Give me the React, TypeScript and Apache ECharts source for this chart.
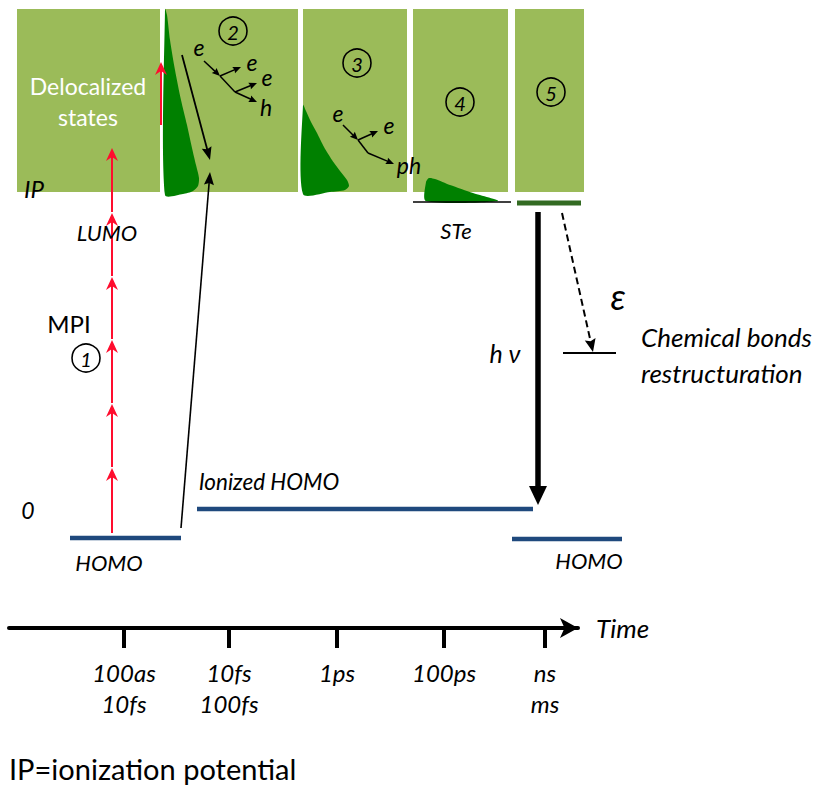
import { useEffect, useRef } from 'react';
import * as echarts from 'echarts';

const CHART_W = 826;
const CHART_H = 787;
const FONT = 'Lato, "Open Sans", sans-serif';

// Delocalized-state bands for each stage: [xStart, xEnd, top, bottom]
const bandBlocks = [
  [17, 160, 9, 192],
  [165, 298, 9, 192],
  [303, 407, 9, 192],
  [413, 508, 9, 192],
  [515, 584, 9, 192],
];

// Hot-carrier population profiles (outline points)
const profileStage2 = [[165, 9], [167, 15], [170, 40], [175, 70], [181, 100], [187, 125], [192, 148], [196, 165], [199, 178], [198, 186], [193, 191], [183, 194], [165, 195]];
const profileStage3 = [[303, 105], [306, 111], [311, 122], [317, 133], [324, 147], [332, 160], [340, 171], [347, 180], [349, 186], [345, 190], [330, 192], [303, 194]];
const profileStage4 = [[426, 201], [426, 182], [429, 178], [435, 179], [450, 185], [473, 193], [498, 201]];
const hotCarrierProfiles = [profileStage2, profileStage3, profileStage4];

// Orbital levels: [xStart, xEnd, level]
const orbitalLevels = [
  [70, 181, 538],
  [197, 533, 509],
  [512, 622, 539],
];

// Other states: [xStart, xEnd, level, color, width]
const stateLevels: any[] = [
  [413, 511, 202, '#000000', 1.5],
  [517, 581, 203, '#336B22', 5],
  [563, 616, 353, '#000000', 1.8],
];

// Multiphoton ionization steps (levels of successive photon arrows)
const mpiX = 112;
const mpiSteps = [533, 468, 404, 340, 277, 213, 148];

// Arrows: [x0, y0, x1, y1, color, width, headLen, headWidth, notch, dashed]
const arrows: any[] = [
  [161, 125, 161, 62, '#FF0D2E', 2, 13, 12, 4, 0],
  [182, 55, 210, 160, '#000000', 1.8, 13, 10, 2, 0],
  [181, 528, 210, 172, '#000000', 1.6, 13, 10, 2, 0],
  [538, 212, 538, 505, '#000000', 5.5, 19, 18, 0, 0],
  [562, 213, 593, 352, '#000000', 2, 13, 11, 2, 1],
  [204, 61, 220, 76, '#000000', 1.5, 8, 7, 1, 0],
  [220, 76, 241, 67, '#000000', 1.5, 8, 7, 1, 0],
  [220, 76, 235, 92, '#000000', 1.5, 0, 0, 0, 0],
  [235, 92, 257, 83, '#000000', 1.5, 8, 7, 1, 0],
  [235, 92, 257, 102, '#000000', 1.5, 8, 7, 1, 0],
  [343, 125, 358, 140, '#000000', 1.5, 8, 7, 1, 0],
  [358, 140, 378, 131, '#000000', 1.5, 8, 7, 1, 0],
  [358, 140, 368, 153, '#000000', 1.5, 0, 0, 0, 0],
  [368, 153, 394, 164, '#000000', 1.5, 8, 7, 1, 0],
];

// Stage markers: [label, x, y]
const stageMarkers: any[] = [
  ['1', 86, 358],
  ['2', 233, 31],
  ['3', 357, 63],
  ['4', 460, 102],
  ['5', 551, 92],
];

// Text labels: [text, x, y, size, italic, color, align]
const textLabels: any[] = [
  ['Delocalized', 88, 86, 23, 0, '#ffffff', 'center'],
  ['states', 88, 117, 23, 0, '#ffffff', 'center'],
  ['IP', 24, 188, 24, 1, '#000000', 'left'],
  ['LUMO', 107, 232, 22, 1, '#000000', 'center'],
  ['MPI', 69, 323, 24, 0, '#000000', 'center'],
  ['STe', 456, 230, 22, 1, '#000000', 'center'],
  ['0', 28, 510, 23, 1, '#000000', 'center'],
  ['HOMO', 109, 562, 22, 1, '#000000', 'center'],
  ['Ionized HOMO', 269, 481, 22.5, 1, '#000000', 'center'],
  ['HOMO', 589, 560, 22, 1, '#000000', 'center'],
  ['h ν', 505, 353, 25, 1, '#000000', 'center'],
  ['ε', 618, 296, 36, 1, '#000000', 'center'],
  ['Chemical bonds', 641, 337, 26, 1, '#000000', 'left'],
  ['restructuration', 641, 373, 26, 1, '#000000', 'left'],
  ['e', 199, 47, 23, 1, '#000000', 'center'],
  ['e', 252, 62, 23, 1, '#000000', 'center'],
  ['e', 267, 77, 23, 1, '#000000', 'center'],
  ['h', 266, 107, 23, 1, '#000000', 'center'],
  ['e', 338, 113, 23, 1, '#000000', 'center'],
  ['e', 389, 125, 23, 1, '#000000', 'center'],
  ['ph', 409, 165, 23, 1, '#000000', 'center'],
  ['IP=ionization potential', 9, 768, 29, 0, '#000000', 'left'],
];

// Time axis
const timeTicks = [124, 229, 337, 444, 545];
const timeTickLabels = ['100as\n10fs', '10fs\n100fs', '1ps', '100ps', 'ns\nms'];
const timeAxisStart = 9;
const timeAxisEnd = 578;
const timeAxisLevel = 628;

function arrowGroup(api: any, a: any[]) {
  const [x0, y0, x1, y1, color, width, hl, hw, notch, dashed] = a;
  const p0 = api.coord([x0, y0]);
  const p1 = api.coord([x1, y1]);
  const dx = p1[0] - p0[0];
  const dy = p1[1] - p0[1];
  const L = Math.hypot(dx, dy) || 1;
  const ux = dx / L;
  const uy = dy / L;
  const nx = -uy;
  const ny = ux;
  const children: any[] = [];
  const trim = hl > 0 ? Math.max(hl - notch - 1, hl * 0.6) : 0;
  children.push({
    type: 'line',
    shape: { x1: p0[0], y1: p0[1], x2: p1[0] - ux * trim, y2: p1[1] - uy * trim },
    style: { stroke: color, lineWidth: width, lineDash: dashed ? [7, 4] : null, lineCap: 'butt' },
  });
  if (hl > 0) {
    const bx = p1[0] - ux * hl;
    const by = p1[1] - uy * hl;
    children.push({
      type: 'polygon',
      shape: {
        points: [
          [p1[0], p1[1]],
          [bx + (nx * hw) / 2, by + (ny * hw) / 2],
          [p1[0] - ux * (hl - notch), p1[1] - uy * (hl - notch)],
          [bx - (nx * hw) / 2, by - (ny * hw) / 2],
        ],
      },
      style: { fill: color, stroke: null },
    });
  }
  return { type: 'group', children };
}

export default function App() {
  const ref = useRef<HTMLDivElement>(null);

  useEffect(() => {
    if (!ref.current) return;
    const chart = echarts.init(ref.current, undefined, { renderer: 'svg' });

    const mpiArrows = mpiSteps.slice(1).map((lvl, i) => [
      mpiX, i === 0 ? mpiSteps[0] : mpiSteps[i] - 1, mpiX, lvl, '#FF0D2E', 2, 13, 12, 4, 0,
    ]);
    const allArrows = [...mpiArrows, ...arrows];

    const base = {
      type: 'custom',
      coordinateSystem: 'cartesian2d',
      xAxisIndex: 0,
      yAxisIndex: 0,
      silent: true,
      clip: false,
    };

    const option: any = {
      animation: false,
      backgroundColor: '#ffffff',
      grid: [
        { left: 0, top: 0, width: CHART_W, height: CHART_H },
        { left: timeAxisStart, top: timeAxisLevel - 1, width: timeAxisEnd - timeAxisStart, height: 1 },
      ],
      xAxis: [
        { type: 'value', gridIndex: 0, min: 0, max: CHART_W, show: false },
        {
          type: 'value',
          gridIndex: 1,
          min: timeAxisStart,
          max: timeAxisEnd,
          position: 'bottom',
          splitLine: { show: false },
          axisLine: {
            show: true,
            onZero: false,
            symbol: ['none', 'arrow'],
            symbolSize: [15, 18],
            symbolOffset: [0, 0],
            lineStyle: { color: '#000000', width: 4 },
          },
          axisTick: {
            show: true,
            customValues: timeTicks,
            length: 20,
            lineStyle: { color: '#000000', width: 4 },
          },
          axisLabel: {
            show: true,
            customValues: timeTicks,
            margin: 29,
            color: '#000000',
            fontFamily: FONT,
            fontStyle: 'italic',
            fontSize: 24,
            lineHeight: 31,
            formatter: (v: number) => {
              const i = timeTicks.indexOf(Math.round(v));
              return i >= 0 ? timeTickLabels[i] : '';
            },
          },
          name: 'Time',
          nameLocation: 'end',
          nameGap: 18,
          nameTextStyle: {
            color: '#000000',
            fontFamily: FONT,
            fontStyle: 'italic',
            fontSize: 26,
            verticalAlign: 'middle',
            padding: [0, 0, 12, 0],
          },
        },
      ],
      yAxis: [
        { type: 'value', gridIndex: 0, min: 0, max: CHART_H, inverse: true, show: false },
        { type: 'value', gridIndex: 1, min: 0, max: 1, show: false },
      ],
      series: [
        {
          ...base,
          name: 'bands',
          data: bandBlocks.map((b) => [b[0], b[2]]),
          renderItem: (params: any, api: any) => {
            const b = bandBlocks[params.dataIndex];
            const p0 = api.coord([b[0], b[2]]);
            const p1 = api.coord([b[1], b[3]]);
            return {
              type: 'rect',
              shape: { x: p0[0], y: p0[1], width: p1[0] - p0[0], height: p1[1] - p0[1] },
              style: { fill: '#9BBB59' },
            };
          },
        },
        {
          ...base,
          name: 'profiles',
          data: hotCarrierProfiles.map((p) => p[0]),
          renderItem: (params: any, api: any) => {
            const pts = hotCarrierProfiles[params.dataIndex].map((p) => api.coord(p));
            return { type: 'polygon', shape: { points: pts, smooth: 0.25 }, style: { fill: '#008000' } };
          },
        },
        {
          ...base,
          name: 'orbitals',
          data: orbitalLevels.map((l) => [l[0], l[2]]),
          renderItem: (params: any, api: any) => {
            const l = orbitalLevels[params.dataIndex];
            const p0 = api.coord([l[0], l[2]]);
            const p1 = api.coord([l[1], l[2]]);
            return {
              type: 'line',
              shape: { x1: p0[0], y1: p0[1], x2: p1[0], y2: p1[1] },
              style: { stroke: '#1F497D', lineWidth: 4.5 },
            };
          },
        },
        {
          ...base,
          name: 'states',
          data: stateLevels.map((l) => [l[0], l[2]]),
          renderItem: (params: any, api: any) => {
            const l = stateLevels[params.dataIndex];
            const p0 = api.coord([l[0], l[2]]);
            const p1 = api.coord([l[1], l[2]]);
            return {
              type: 'line',
              shape: { x1: p0[0], y1: p0[1], x2: p1[0], y2: p1[1] },
              style: { stroke: l[3], lineWidth: l[4] },
            };
          },
        },
        {
          ...base,
          name: 'arrows',
          data: allArrows.map((a) => [a[0], a[1]]),
          renderItem: (params: any, api: any) => arrowGroup(api, allArrows[params.dataIndex]),
        },
        {
          ...base,
          name: 'stages',
          data: stageMarkers.map((m) => [m[1], m[2]]),
          renderItem: (params: any, api: any) => {
            const m = stageMarkers[params.dataIndex];
            const c = api.coord([m[1], m[2]]);
            return {
              type: 'group',
              children: [
                {
                  type: 'circle',
                  shape: { cx: c[0], cy: c[1], r: 14 },
                  style: { fill: 'none', stroke: '#000000', lineWidth: 1.6 },
                },
                {
                  type: 'text',
                  style: {
                    text: m[0],
                    x: c[0],
                    y: c[1] + 1,
                    align: 'center',
                    verticalAlign: 'middle',
                    fontFamily: FONT,
                    fontStyle: 'italic',
                    fontSize: 20,
                    fill: '#000000',
                  },
                },
              ],
            };
          },
        },
        {
          ...base,
          name: 'texts',
          data: textLabels.map((t) => [t[1], t[2]]),
          renderItem: (params: any, api: any) => {
            const t = textLabels[params.dataIndex];
            const c = api.coord([t[1], t[2]]);
            return {
              type: 'text',
              style: {
                text: t[0],
                x: c[0],
                y: c[1],
                align: t[6],
                verticalAlign: 'middle',
                fontFamily: FONT,
                fontStyle: t[4] ? 'italic' : 'normal',
                fontSize: t[3],
                fill: t[5],
              },
            };
          },
        },
      ],
    };

    chart.setOption(option);
    return () => chart.dispose();
  }, []);

  return (
    <div
      ref={ref}
      style={{ position: 'absolute', left: 0, top: 0, width: CHART_W, height: CHART_H, background: '#fff' }}
    />
  );
}
